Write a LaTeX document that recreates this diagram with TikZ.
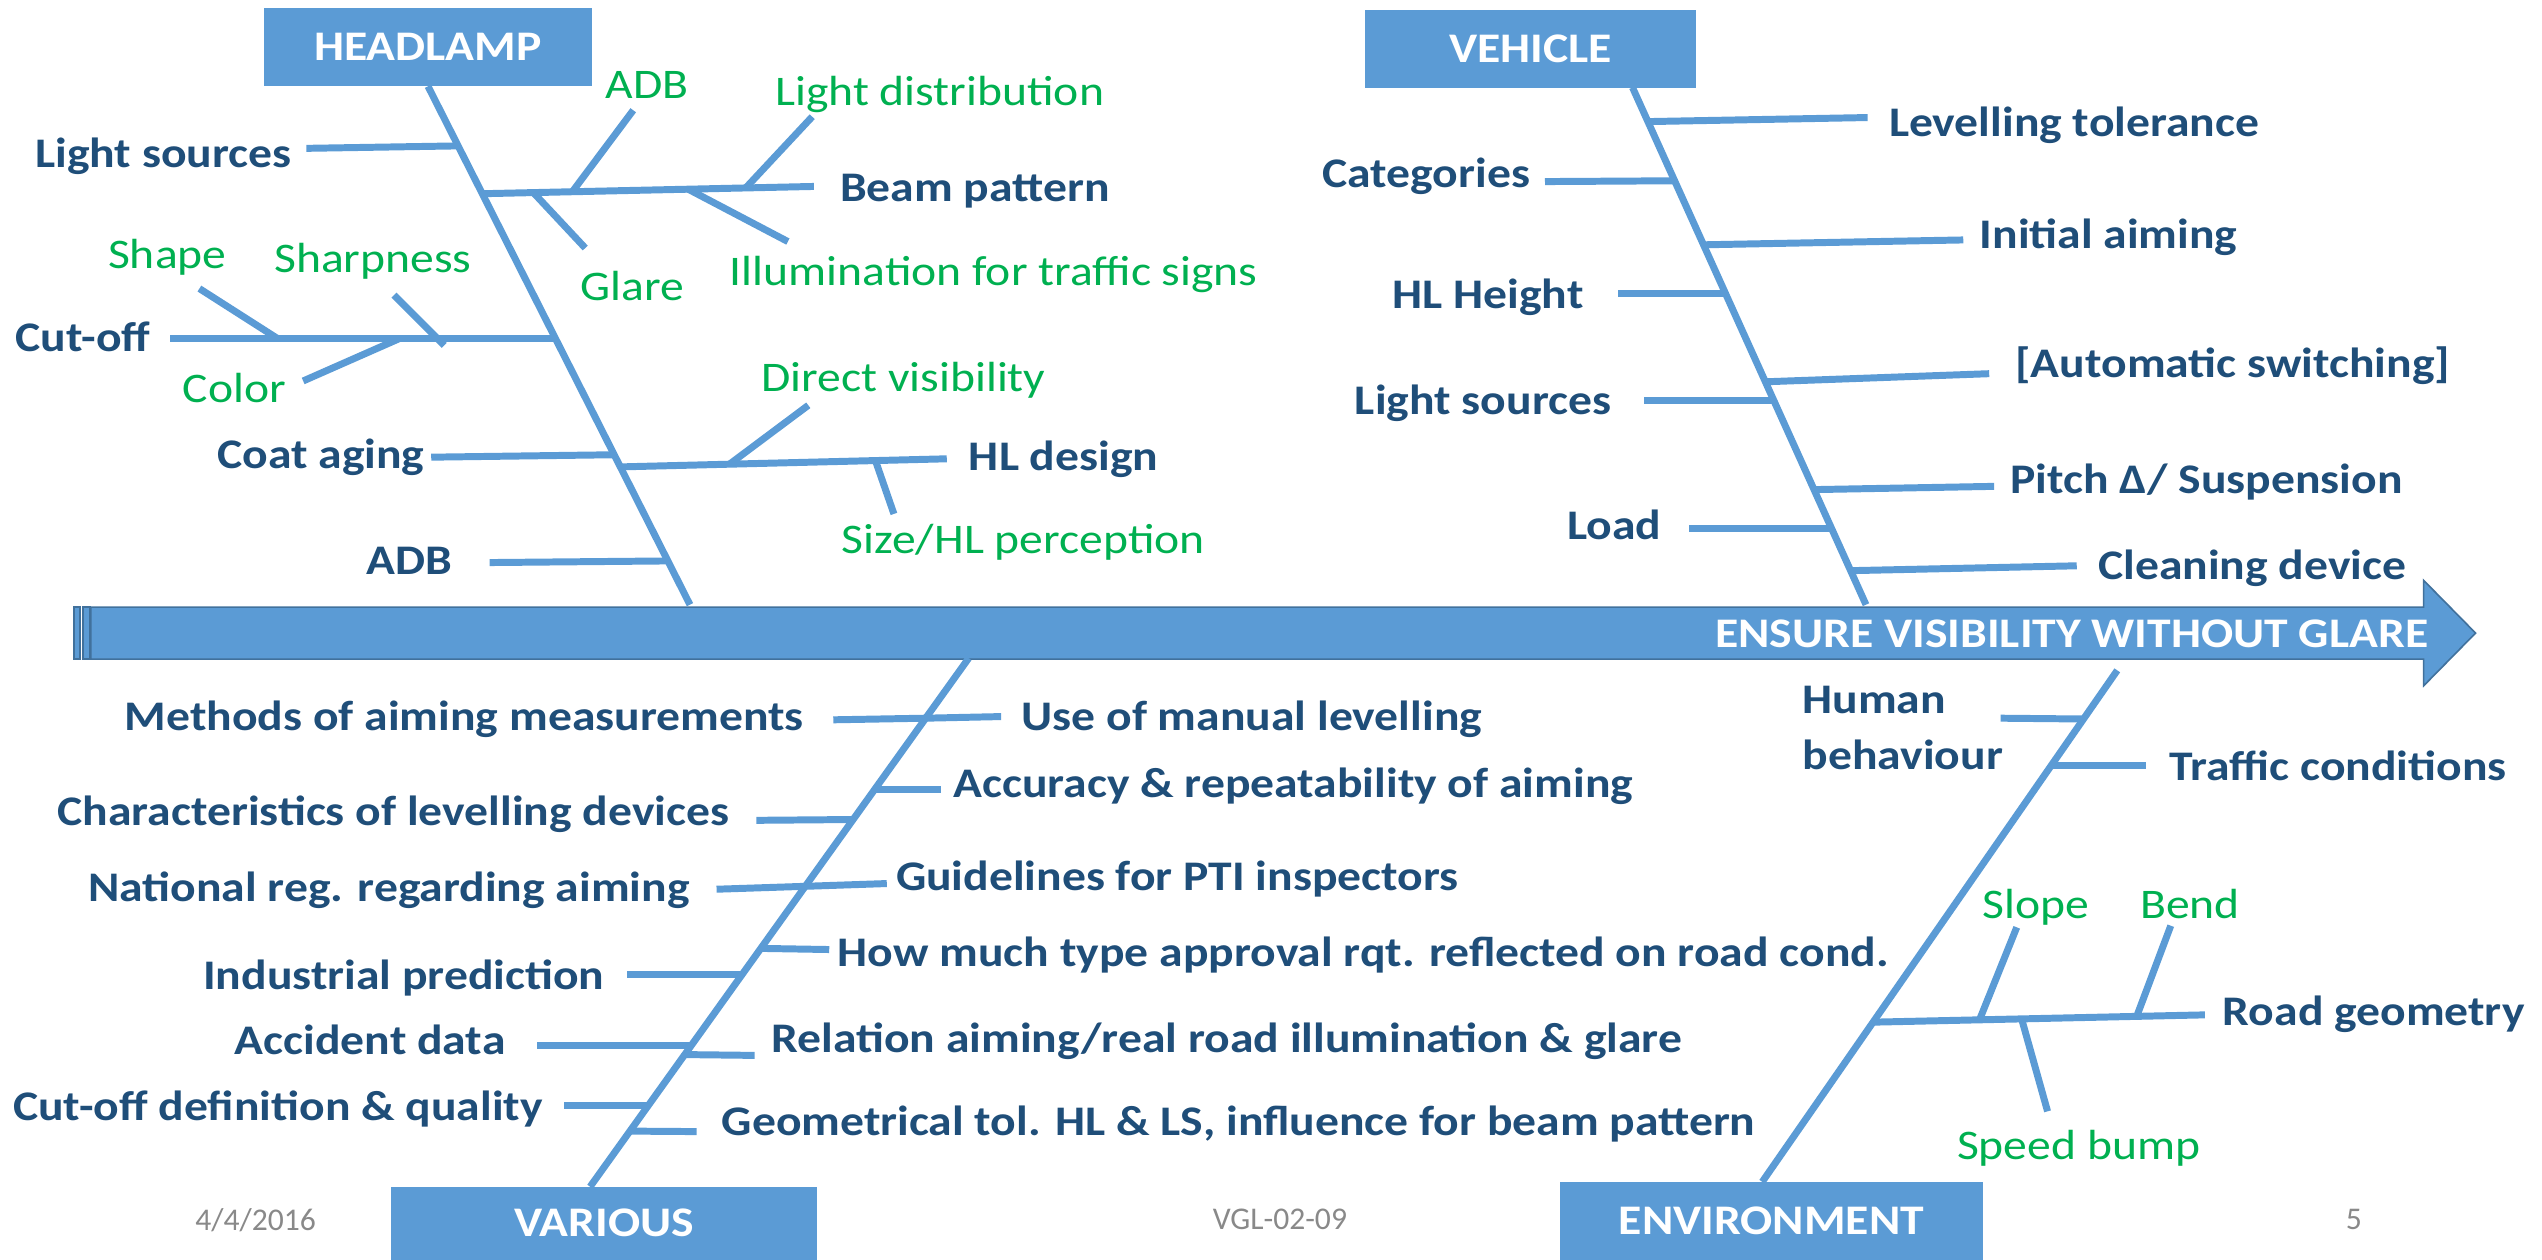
\documentclass[tikz,border=0pt]{standalone}
\usepackage{fontspec}
\setmainfont{Carlito}
\newfontfamily\widefont{Carlito}[FakeStretch=1.13]
\usepackage{tikz}
\definecolor{fishblue}{HTML}{5B9BD5}
\definecolor{fishedge}{HTML}{41719C}
\definecolor{navy}{HTML}{1F4E79}
\definecolor{leafgreen}{HTML}{00B050}
\definecolor{footgray}{HTML}{898989}

\begin{document}
\begin{tikzpicture}[x=1pt,y=-1pt,
    bone/.style={draw=fishblue, line width=4.3pt},
    cause/.style={inner sep=0pt, text=navy, font=\widefont\fontsize{26}{30}\selectfont\bfseries, text height=16.7pt, text depth=0pt},
    sub/.style={inner sep=0pt, text=leafgreen, font=\widefont\fontsize{26}{30}\selectfont, text height=16.7pt, text depth=0pt},
    title/.style={fill=fishblue, text=white, font=\widefont\fontsize{26}{30}\selectfont\bfseries, inner sep=0pt},
    footer/.style={text=footgray, font=\fontsize{19.5}{24}\selectfont, inner sep=0pt}]
  \useasboundingbox (0,0) rectangle (1568,777);

  % spine
  \filldraw[fill=fishblue, draw=fishedge, line width=1pt] (56,374.5) -- (1495,374.5) -- (1495,358) -- (1527,390.5) -- (1495,423) -- (1495,406.6) -- (56,406.6) -- cycle;
  \filldraw[fill=fishblue, draw=fishedge, line width=1pt] (45.6,374.5) rectangle (49.4,406.6);
  \filldraw[fill=fishblue, draw=fishedge, line width=1pt] (51.2,374.5) rectangle (55.5,406.6);
  \node[title, fill=none, anchor=east] (goal) at (1498,391) {ENSURE VISIBILITY WITHOUT GLARE};

  % categories
  \node[title, minimum width=202pt, minimum height=48pt] (headlamp) at (264,29) {HEADLAMP};
  \node[title, minimum width=204pt, minimum height=48pt] (vehicle) at (944,30) {VEHICLE};
  \node[title, minimum width=262.6pt, minimum height=45pt] (various) at (372.7,754.5) {VARIOUS};
  \node[title, minimum width=261.5pt, minimum height=48pt] (environment) at (1092.7,753) {ENVIRONMENT};

  % headlamp
  \coordinate (h0) at (425.6,373);
  \draw[bone] (headlamp.south) -- (h0);
  \coordinate (h1) at (282,90);      \coordinate (h1e) at (189,91.5);
  \coordinate (h2) at (297,119.5);   \coordinate (h2e) at (502,115);
  \coordinate (h3) at (342.5,209);   \coordinate (h3e) at (105,209);
  \coordinate (h4) at (378.7,280.5); \coordinate (h4e) at (266,282);
  \coordinate (h5) at (382.5,288);   \coordinate (h5e) at (584,283);
  \coordinate (h6) at (411.9,346);   \coordinate (h6e) at (302,347);
  \foreach \i in {1,...,6}
    \draw[bone] (h\i) -- (h\i e);
  \node[cause, anchor=east] (hlsrc) at (180,95) {Light sources};
  \node[cause, anchor=west] (beam) at (518,116) {Beam pattern};
  \node[cause, anchor=east] (cutoff) at (93,208.6) {Cut-off};
  \node[cause, anchor=east] (coat) at (262,280.5) {Coat aging};
  \node[cause, anchor=west] (hldesign) at (597.5,282) {HL design};
  \node[cause, anchor=east] (hladb) at (279,346) {ADB};
  % beam pattern
  \coordinate (b1) at (353,118.3);   \coordinate (b1e) at (390.6,68);
  \coordinate (b2) at (329,118.8);   \coordinate (b2e) at (361,153);
  \coordinate (b3) at (460,115.9);   \coordinate (b3e) at (501,72);
  \coordinate (b4) at (424.5,116.7); \coordinate (b4e) at (486,149);
  \foreach \i in {1,...,4}
    \draw[bone] (b\i) -- (b\i e);
  \node[sub] (badb) at (399,52.5) {ADB};
  \node[sub, anchor=west] (glare) at (358,177) {Glare};
  \node[sub, anchor=west] (distrib) at (478,57) {Light distribution};
  \node[sub, anchor=west] (signs) at (450,168) {Illumination for traffic signs};
  % cut-off
  \coordinate (c1) at (171.5,209);   \coordinate (c1e) at (123,178);
  \coordinate (c2) at (274,213);     \coordinate (c2e) at (243,182);
  \coordinate (c3) at (246,209);     \coordinate (c3e) at (187,235);
  \foreach \i in {1,...,3}
    \draw[bone] (c\i) -- (c\i e);
  \node[sub, anchor=west] (shape) at (66.5,157.5) {Shape};
  \node[sub, anchor=west] (sharp) at (169,160) {Sharpness};
  \node[sub, anchor=west] (color) at (112.5,240) {Color};
  % hl design
  \coordinate (d1) at (450,286.3);   \coordinate (d1e) at (498.6,250);
  \coordinate (d2) at (540,284.1);   \coordinate (d2e) at (551.4,317);
  \draw[bone] (d1) -- (d1e);
  \draw[bone] (d2) -- (d2e);
  \node[sub, anchor=west] (direct) at (469.5,233) {Direct visibility};
  \node[sub, anchor=west] (size) at (519,333) {Size/HL perception};

  % vehicle
  \coordinate (vtop) at (1007,54);
  \coordinate (v0) at (1151,373);
  \draw[bone] (vtop) -- (v0);
  \coordinate (v1) at (1016.5,75);   \coordinate (v1e) at (1152,72.5);
  \coordinate (v2) at (1034,111.5);  \coordinate (v2e) at (953,112);
  \coordinate (v3) at (1050.8,151);  \coordinate (v3e) at (1211,148);
  \coordinate (v4) at (1064.3,181);  \coordinate (v4e) at (998,181);
  \coordinate (v5) at (1088.9,235.5); \coordinate (v5e) at (1227,230.5);
  \coordinate (v6) at (1094,247);    \coordinate (v6e) at (1014,247);
  \coordinate (v7) at (1119,302);    \coordinate (v7e) at (1230,300);
  \coordinate (v8) at (1129.8,326);  \coordinate (v8e) at (1042,326);
  \coordinate (v9) at (1141.5,352);  \coordinate (v9e) at (1281,349);
  \foreach \i in {1,...,9}
    \draw[bone] (v\i) -- (v\i e);
  \node[cause, anchor=west] (toler) at (1165,76) {Levelling tolerance};
  \node[cause, anchor=east] (categ) at (944,107) {Categories};
  \node[cause, anchor=west] (initial) at (1221,145) {Initial aiming};
  \node[cause, anchor=east] (height) at (977,182) {HL Height};
  \node[cause, anchor=west] (switch) at (1243,224.5) {[Automatic switching]};
  \node[cause, anchor=east] (vsrc) at (994,247.5) {Light sources};
  \node[cause, anchor=west] (pitch) at (1240,296) {Pitch Δ/ Suspension};
  \node[cause, anchor=east] (load) at (1025,324.5) {Load};
  \node[cause, anchor=west] (clean) at (1294,349) {Cleaning device};

  % various
  \coordinate (r0) at (597.5,406);
  \draw[bone] (r0) -- (364,732);
  \coordinate (r1) at (571,443);     \coordinate (r1e) at (514,444);
  \coordinate (r2e) at (617.5,442);
  \coordinate (r3) at (539.5,487);   \coordinate (r3e) at (580.6,487);
  \coordinate (r4) at (526,505.5);   \coordinate (r4e) at (466.5,506);
  \coordinate (r5) at (496.7,546.7); \coordinate (r5e) at (442,548.5);
  \coordinate (r6e) at (547,545);
  \coordinate (r7) at (469.3,585);   \coordinate (r7e) at (511.5,585.7);
  \coordinate (r8) at (457.8,601);   \coordinate (r8e) at (387,601);
  \coordinate (r9) at (426.5,644.7); \coordinate (r9e) at (331,644.7);
  \coordinate (r10) at (422.6,650.5); \coordinate (r10e) at (465.5,651);
  \coordinate (r11) at (399.8,682);  \coordinate (r11e) at (348,682);
  \coordinate (r12) at (388.6,697.7); \coordinate (r12e) at (429.7,698);
  \draw[bone] (r1e) -- (r1) -- (r2e);
  \draw[bone] (r5e) -- (r5) -- (r6e);
  \foreach \i in {3,4,7,8,9,10,11,12}
    \draw[bone] (r\i) -- (r\i e);
  \node[cause, anchor=east] (methods) at (496,442) {Methods of aiming measurements};
  \node[cause, anchor=west] (manual) at (630,442) {Use of manual levelling};
  \node[cause, anchor=west] (accur) at (588,483.6) {Accuracy \& repeatability of aiming};
  \node[cause, anchor=east] (charac) at (450,501) {Characteristics of levelling devices};
  \node[cause, anchor=east] (national) at (425.6,548) {National reg. regarding aiming};
  \node[cause, anchor=west] (guide) at (552.5,541) {Guidelines for PTI inspectors};
  \node[cause, anchor=west] (howmuch) at (516.6,588) {How much type approval rqt. reflected on road cond.};
  \node[cause, anchor=east] (industr) at (373,601.8) {Industrial prediction};
  \node[cause, anchor=east] (accid) at (312,642) {Accident data};
  \node[cause, anchor=west] (relation) at (475.7,641) {Relation aiming/real road illumination \& glare};
  \node[cause, anchor=east] (cutdef) at (335,683) {Cut-off definition \& quality};
  \node[cause, anchor=west] (geom) at (445,692) {Geometrical tol. HL \& LS, influence for beam pattern};

  % environment
  \coordinate (e0) at (1306,413.5);
  \draw[bone] (e0) -- (1087,729);
  \coordinate (e1) at (1285.2,443.5); \coordinate (e1e) at (1234,443);
  \coordinate (e2) at (1265.4,472);  \coordinate (e2e) at (1324,472);
  \coordinate (e3) at (1155.4,630.5); \coordinate (e3e) at (1360,626);
  \foreach \i in {1,2,3}
    \draw[bone] (e\i) -- (e\i e);
  \node[inner sep=0pt, text=navy, font=\widefont\fontsize{26}{34.5}\selectfont\bfseries, align=left, anchor=west] (human) at (1111.7,448.8) {Human\\behaviour};
  \node[cause, anchor=west] (traffic) at (1338,473) {Traffic conditions};
  \node[cause, anchor=west] (road) at (1371,624) {Road geometry};
  % road geometry
  \coordinate (g1) at (1221,629.1);  \coordinate (g1e) at (1244,572);
  \coordinate (g2) at (1318,626.9);  \coordinate (g2e) at (1339,571);
  \coordinate (g3) at (1247,628.5);  \coordinate (g3e) at (1263,685.5);
  \foreach \i in {1,2,3}
    \draw[bone] (g\i) -- (g\i e);
  \node[sub, anchor=west] (slope) at (1222.5,558.5) {Slope};
  \node[sub, anchor=west] (bend) at (1320,558.5) {Bend};
  \node[sub, anchor=west] (bump) at (1207,707) {Speed bump};

  % footer
  \node[footer] (date) at (157.7,752.4) {4/4/2016};
  \node[footer] (docid) at (789.5,752) {VGL-02-09};
  \node[footer] (page) at (1452,752) {5};
\end{tikzpicture}
\end{document}
